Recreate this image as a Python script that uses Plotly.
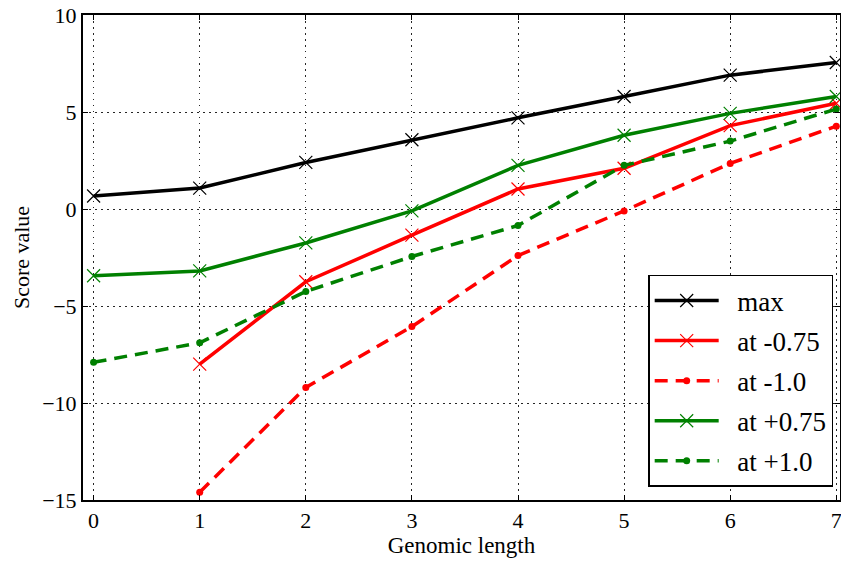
import plotly.graph_objects as go

x_vals = [0, 1, 2, 3, 4, 5, 6, 7]
max_vals = [0.67, 1.08, 2.4, 3.57, 4.7, 5.8, 6.9, 7.55]
m075_x = [1, 2, 3, 4, 5, 6, 7]
m075_vals = [-8.0, -3.75, -1.35, 1.03, 2.1, 4.3, 5.45]
m10_x = [1, 2, 3, 4, 5, 6, 7]
m10_vals = [-14.6, -9.2, -6.06, -2.4, -0.1, 2.35, 4.27]
p075_vals = [-3.44, -3.19, -1.75, -0.1, 2.25, 3.8, 4.93, 5.8]
p10_vals = [-7.9, -6.9, -4.25, -2.45, -0.85, 2.25, 3.5, 5.15]
series_names = ["max", "at -0.75", "at -1.0", "at +0.75", "at +1.0"]

FONT = "Liberation Serif, DejaVu Serif, serif"
fig = go.Figure()

def add(name, xs, ys, color, dash, symbol, group):
    if symbol == "x":
        marker = dict(symbol="x-thin", size=13, line=dict(width=1.2, color=color), color=color)
    else:
        marker = dict(symbol="circle", size=7, color=color)
    fig.add_trace(go.Scatter(
        x=xs, y=ys, name="\u2002" + name, mode="lines+markers",
        line=dict(color=color, width=3.5, dash=dash),
        marker=marker, legendgroup=group, cliponaxis=False,
    ))

add(series_names[0], x_vals, max_vals, "black", "solid", "x", "a")
add(series_names[1], m075_x, m075_vals, "red", "solid", "x", "b")
add(series_names[2], m10_x, m10_vals, "red", "13px,8px", "o", "c")
add(series_names[3], x_vals, p075_vals, "green", "solid", "x", "d")
add(series_names[4], x_vals, p10_vals, "green", "13px,8px", "o", "e")

axis_common = dict(
    showline=True, linecolor="black", linewidth=2, mirror="ticks",
    ticks="inside", ticklen=5, tickcolor="black", automargin=False,
    ticklabeloverflow="allow",
    showgrid=True, gridcolor="rgba(0,0,0,0.85)", griddash="1.5px,4.5px", gridwidth=1,
    zeroline=False, tickfont=dict(family=FONT, size=22, color="black"),
)
fig.update_xaxes(range=[-0.1, 7.035], tickvals=x_vals,
                 title=dict(text="Genomic length", font=dict(family=FONT, size=23, color="black"), standoff=2),
                 **axis_common)
fig.update_yaxes(range=[-15, 10], tickvals=[-15, -10, -5, 0, 5, 10],
                 title=dict(text="Score value", font=dict(family=FONT, size=22, color="black"), standoff=6),
                 **axis_common)

fig.update_layout(
    width=841, height=561,
    margin=dict(l=83, r=1, t=15, b=61),
    plot_bgcolor="white", paper_bgcolor="white",
    font=dict(family=FONT, color="black"),
    legend=dict(
        x=0.991, y=0.027, xanchor="right", yanchor="bottom",
        bgcolor="white", bordercolor="black", borderwidth=1.5,
        font=dict(family=FONT, size=27, color="black"),
        tracegroupgap=2, itemwidth=64,
    ),
)

fig.write_html("out.html", config={"displayModeBar": False},
               post_script="document.body.style.margin='0';document.body.style.overflow='hidden';")
